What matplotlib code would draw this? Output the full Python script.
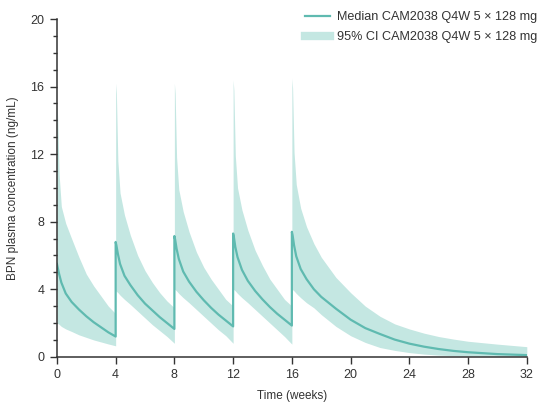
import numpy as np
import matplotlib
matplotlib.use('Agg')
import matplotlib.pyplot as plt
from matplotlib.lines import Line2D
from matplotlib.ticker import MultipleLocator

plt.rcParams['font.family'] = ['Liberation Sans', 'DejaVu Sans']

# Time (weeks), one block per dosing interval (dose at 0, 4, 8, 12, 16)
weeks_c0 = [0.0, 0.05, 0.15, 0.3, 0.6, 1.0, 1.5, 2.0, 2.5, 3.0, 3.5, 4.0]
weeks_c1 = [4.0, 4.05, 4.15, 4.3, 4.6, 5.0, 5.5, 6.0, 6.5, 7.0, 7.5, 8.0]
weeks_c2 = [8.0, 8.05, 8.15, 8.3, 8.6, 9.0, 9.5, 10.0, 10.5, 11.0, 11.5, 12.0]
weeks_c3 = [12.0, 12.05, 12.15, 12.3, 12.6, 13.0, 13.5, 14.0, 14.5, 15.0, 15.5, 16.0]
weeks_c4 = [16.0, 16.05, 16.15, 16.3, 16.6, 17.0, 17.5, 18.0, 19.0, 20.0, 21.0,
            22.0, 23.0, 24.0, 25.0, 26.0, 27.0, 28.0, 30.0, 32.0]

# Median BPN concentration (ng/mL)
median_c0 = [5.5, 5.3, 4.9, 4.4, 3.75, 3.25, 2.8, 2.4, 2.05, 1.75, 1.45, 1.2]
median_c1 = [6.8, 6.6, 6.1, 5.5, 4.8, 4.25, 3.65, 3.15, 2.75, 2.35, 2.0, 1.65]
median_c2 = [7.15, 6.95, 6.4, 5.8, 5.05, 4.45, 3.85, 3.35, 2.9, 2.5, 2.15, 1.8]
median_c3 = [7.3, 7.1, 6.5, 5.9, 5.15, 4.5, 3.9, 3.4, 2.95, 2.55, 2.2, 1.85]
median_c4 = [7.4, 7.2, 6.6, 5.95, 5.2, 4.6, 4.0, 3.55, 2.85, 2.2, 1.7,
             1.35, 1.02, 0.78, 0.6, 0.46, 0.35, 0.27, 0.16, 0.1]

# 95% CI upper bound
upper_c0 = [15.0, 14.2, 10.8, 8.9, 7.9, 7.0, 5.9, 4.9, 4.2, 3.6, 3.0, 2.55]
upper_c1 = [16.2, 15.6, 11.6, 9.7, 8.4, 7.2, 6.0, 5.1, 4.4, 3.8, 3.3, 2.9]
upper_c2 = [16.2, 15.6, 11.8, 9.9, 8.6, 7.4, 6.2, 5.3, 4.6, 4.0, 3.4, 3.0]
upper_c3 = [16.4, 15.8, 11.9, 10.0, 8.7, 7.5, 6.3, 5.4, 4.6, 4.0, 3.4, 3.0]
upper_c4 = [16.5, 15.9, 12.1, 10.2, 8.8, 7.7, 6.7, 5.9, 4.7, 3.8, 3.0,
            2.4, 1.95, 1.65, 1.4, 1.2, 1.05, 0.92, 0.75, 0.6]

# 95% CI lower bound
lower_c0 = [2.0, 1.98, 1.92, 1.8, 1.65, 1.5, 1.3, 1.15, 1.0, 0.88, 0.76, 0.65]
lower_c1 = [3.9, 3.88, 3.8, 3.65, 3.4, 3.1, 2.7, 2.3, 1.9, 1.55, 1.2, 0.8]
lower_c2 = [4.0, 3.98, 3.9, 3.75, 3.5, 3.2, 2.8, 2.4, 2.0, 1.6, 1.25, 0.8]
lower_c3 = [4.0, 3.98, 3.9, 3.75, 3.5, 3.2, 2.8, 2.4, 2.0, 1.6, 1.2, 0.75]
lower_c4 = [4.0, 3.98, 3.9, 3.75, 3.5, 3.2, 2.9, 2.5, 1.8, 1.25, 0.85,
            0.55, 0.38, 0.25, 0.16, 0.1, 0.07, 0.05, 0.03, 0.02]

LINE_COLOR = '#5fbab0'
BAND_COLOR = '#c4e7e2'

t = np.concatenate([weeks_c0, weeks_c1, weeks_c2, weeks_c3, weeks_c4])
med = np.concatenate([median_c0, median_c1, median_c2, median_c3, median_c4])
hi = np.concatenate([upper_c0, upper_c1, upper_c2, upper_c3, upper_c4])
lo = np.concatenate([lower_c0, lower_c1, lower_c2, lower_c3, lower_c4])

fig = plt.figure(figsize=(5.37, 4.05), dpi=100)
ax = fig.add_axes([0.106, 0.119, 0.875, 0.834])

ax.fill_between(t, lo, hi, color=BAND_COLOR, lw=0)
ax.plot(t, med, color=LINE_COLOR, lw=1.6)

ax.set_xlim(0, 32)
ax.set_ylim(0, 20)
ax.xaxis.set_major_locator(MultipleLocator(4))
ax.yaxis.set_major_locator(MultipleLocator(4))
ax.yaxis.set_minor_locator(MultipleLocator(1))

for s in ['top', 'right']:
    ax.spines[s].set_visible(False)
for s in ['left', 'bottom']:
    ax.spines[s].set_color('#333333')
    ax.spines[s].set_linewidth(1.1)

ax.tick_params(axis='both', which='major', length=5, width=1.0,
               color='#333333', labelsize=9, labelcolor='#333333', pad=4)
ax.tick_params(axis='y', which='minor', length=3, width=1.0, color='#333333')

ax.set_xlabel('Time (weeks)', fontsize=8.5, color='#333333', labelpad=6)
ax.set_ylabel('BPN plasma concentration (ng/mL)', fontsize=8.5,
              color='#333333', labelpad=8)

handles = [Line2D([], [], color=LINE_COLOR, lw=1.6),
           Line2D([], [], color=BAND_COLOR, lw=6)]
labels = ['Median CAM2038 Q4W 5 \u00d7 128 mg',
          '95% CI CAM2038 Q4W 5 \u00d7 128 mg']
fig.legend(handles, labels, loc='upper right', bbox_to_anchor=(1.022, 1.0),
           frameon=False, fontsize=9.1, handlelength=2.0, handletextpad=0.55,
           labelspacing=0.6, labelcolor='#333333')

fig.savefig('out.png', dpi=100)
